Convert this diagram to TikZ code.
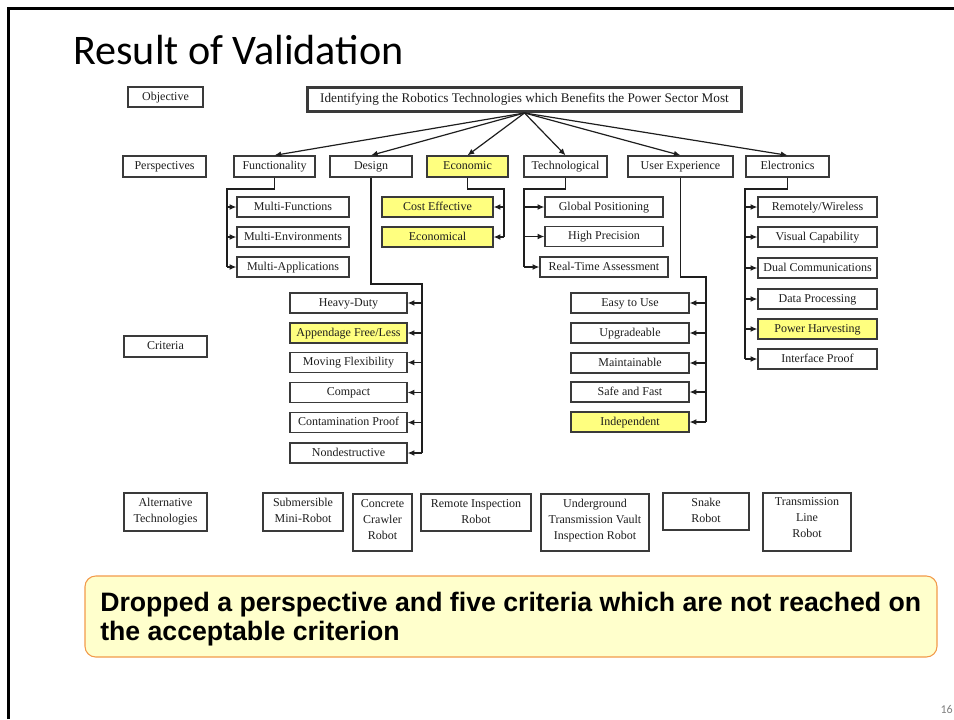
\documentclass[tikz,border=0pt]{standalone}
\usepackage{fontspec}
\setmainfont{Liberation Serif}
\newfontfamily\titlefont{Carlito}
\newfontfamily\notefont{Liberation Sans}
\usetikzlibrary{arrows.meta,calc}
\definecolor{hl}{HTML}{FFFF7F}
\definecolor{edge}{HTML}{3A3A3A}
\definecolor{ink}{HTML}{1E1E1E}
\definecolor{notefill}{HTML}{FFFFCC}
\definecolor{notedraw}{HTML}{F29A4A}
\tikzset{
  sz/.style 2 args={minimum width=#1*0.75pt, minimum height=#2*0.75pt},
  plainbox/.style={draw=edge, line width=1pt, fill=white, inner sep=0pt, text=ink,
              font=\fontsize{9}{12}\selectfont, align=center},
  box/.style={plainbox, text height=6.4pt, text depth=1.9pt},
  hbox/.style={box, fill=hl},
  alttext/.style={anchor=north, align=center, inner sep=0pt, text=ink,
                  font=\fontsize{9}{12}\selectfont, yshift=-4.5pt},
  link/.style={draw=ink, line width=0.9pt},
  arr/.style={link, -{Latex[length=5pt,width=4.4pt]}},
}
\begin{document}
\begin{tikzpicture}[x=0.75pt,y=-0.75pt]
\useasboundingbox (0,0) rectangle (954,719);
% slide frame
\draw[line width=2pt] (8.5,719) -- (8.5,8.5) -- (954,8.5);
% title and page number
\node[anchor=base west, inner sep=0pt, font=\titlefont\fontsize{31.6}{38}\selectfont] (title) at (73,64) {Result of Validation};
\node[anchor=base east, inner sep=0pt, text=gray, font=\titlefont\fontsize{9}{10}\selectfont] (page) at (953,713) {16};

% row labels
\node[box, sz={75}{20}] (lobj) at (165.5,97) {Objective};
\node[box, sz={83}{21}] (lper) at (164.5,166.5) {Perspectives};
\node[box, sz={83}{21}] (lcri) at (165.5,346.5) {Criteria};
\node[plainbox, sz={83}{38}] (lalt) at (165.5,512) {Alternative\\Technologies};

% objective
\node[box, sz={434}{24}, line width=2.2pt, font=\fontsize{9.9}{12}\selectfont] (obj) at (524.5,99.5) {Identifying the Robotics Technologies which Benefits the Power Sector Most};

% perspectives
\node[box, sz={81}{21}] (fun) at (274.5,166.5) {Functionality};
\node[box, sz={82}{21}] (des) at (371,166.5) {Design};
\node[hbox, sz={81}{21}] (eco) at (467.5,166.5) {Economic};
\node[box, sz={83}{21}] (tec) at (565.5,166.5) {Technological};
\node[box, sz={105}{21}] (ux) at (680.5,166.5) {User Experience};
\node[box, sz={83}{21}] (ele) at (787.5,166.5) {Electronics};
\foreach \n in {fun,des,eco,tec,ux,ele} \draw[arr] (obj.south) -- (\n.north);

% functionality criteria
\node[box, sz={112}{20}] (mfun) at (293,207) {Multi-Functions};
\node[box, sz={112}{20}] (menv) at (293,237) {Multi-Environments};
\node[box, sz={112}{20}] (mapp) at (293,267) {Multi-Applications};
\coordinate (fk) at (227,189);
\draw[link] (fun.south) |- (fk) -- (fk |- mapp.west);
\foreach \n in {mfun,menv,mapp} \draw[arr] (fk |- \n.west) -- (\n.west);

% economic criteria
\node[hbox, sz={111}{20}] (cost) at (437.5,207) {Cost Effective};
\node[hbox, sz={111}{20}] (ecol) at (437.5,237) {Economical};
\coordinate (ek) at (504,189);
\draw[link] (eco.south) |- (ek) -- (ek |- ecol.east);
\foreach \n in {cost,ecol} \draw[arr] (ek |- \n.east) -- (\n.east);

% technological criteria
\node[box, sz={118}{20}] (gpos) at (604,207) {Global Positioning};
\node[box, sz={118}{20}] (hpre) at (604,236.5) {High Precision};
\node[box, sz={128}{20}] (rta) at (604,267) {Real-Time Assessment};
\coordinate (tk) at (524,189);
\draw[link] (tec.south) |- (tk) -- (tk |- rta.west);
\foreach \n in {gpos,hpre,rta} \draw[arr] (tk |- \n.west) -- (\n.west);

% electronics criteria
\node[box, sz={119}{20}] (rw) at (817.5,207) {Remotely/Wireless};
\node[box, sz={119}{20}] (vc) at (817.5,237) {Visual Capability};
\node[box, sz={119}{20}] (dc) at (817.5,268) {Dual Communications};
\node[box, sz={119}{20}] (dp) at (817.5,299) {Data Processing};
\node[hbox, sz={119}{20}] (ph) at (817.5,329) {Power Harvesting};
\node[box, sz={119}{20}] (ip) at (817.5,359) {Interface Proof};
\coordinate (lk) at (745,189);
\draw[link] (ele.south) |- (lk) -- (lk |- ip.west);
\foreach \n in {rw,vc,dc,dp,ph,ip} \draw[arr] (lk |- \n.west) -- (\n.west);

% design criteria
\node[box, sz={117}{20}] (hd) at (348.5,303) {Heavy-Duty};
\node[hbox, sz={117}{20}] (af) at (348.5,333) {Appendage Free/Less};
\node[box, sz={117}{20}] (mf) at (348.5,362.5) {Moving Flexibility};
\node[box, sz={117}{20}] (cp) at (348.5,392.5) {Compact};
\node[box, sz={117}{20}] (cpr) at (348.5,422.5) {Contamination Proof};
\node[box, sz={117}{20}] (nd) at (348.5,453) {Nondestructive};
\coordinate (dk) at (422,284);
\draw[link] (des.south) |- (dk) -- (dk |- nd.east);
\foreach \n in {hd,af,mf,cp,cpr,nd} \draw[arr] (dk |- \n.east) -- (\n.east);

% user experience criteria
\node[box, sz={118}{20}] (eu) at (630,303) {Easy to Use};
\node[box, sz={118}{20}] (up) at (630,333) {Upgradeable};
\node[box, sz={118}{20}] (mt) at (630,363) {Maintainable};
\node[box, sz={118}{20}] (sf) at (630,392) {Safe and Fast};
\node[hbox, sz={118}{20}] (ind) at (630,422) {Independent};
\coordinate (uk) at (706,277);
\draw[link] (ux.south) |- (uk) -- (uk |- ind.east);
\foreach \n in {eu,up,mt,sf,ind} \draw[arr] (uk |- \n.east) -- (\n.east);

% alternative technologies
\node[plainbox, sz={80}{38}] (sub) at (303,512) {};
\node[alttext] (subt) at (sub.north) {Submersible\\Mini-Robot};
\node[plainbox, sz={59}{57}] (con) at (382.5,522.5) {};
\node[alttext] (cont) at (con.north) {Concrete\\Crawler\\Robot};
\node[plainbox, sz={110}{37}] (rem) at (476,512.5) {};
\node[alttext] (remt) at (rem.north) {Remote Inspection\\Robot};
\node[plainbox, sz={108}{57}] (und) at (595,522.5) {};
\node[alttext] (undt) at (und.north) {Underground\\Transmission Vault\\Inspection Robot};
\node[plainbox, sz={86}{37}] (snk) at (706,511.5) {};
\node[alttext, yshift=0.5pt] (snkt) at (snk.north) {Snake\\Robot};
\node[plainbox, sz={88}{58}] (trl) at (807,522) {};
\node[alttext, yshift=1pt] (trlt) at (trl.north) {Transmission\\Line\\Robot};

% conclusion note
\node[draw=notedraw, fill=notefill, rounded corners=8pt, line width=0.8pt, sz={852}{81}, inner sep=0pt] (note) at (511,616.5) {};
\node[anchor=north west, inner sep=0pt, align=left, font=\notefont\bfseries\fontsize{20}{22}\selectfont] (notet) at (100,592) {Dropped a perspective and five criteria which are not reached on\\the acceptable criterion};
\end{tikzpicture}
\end{document}
